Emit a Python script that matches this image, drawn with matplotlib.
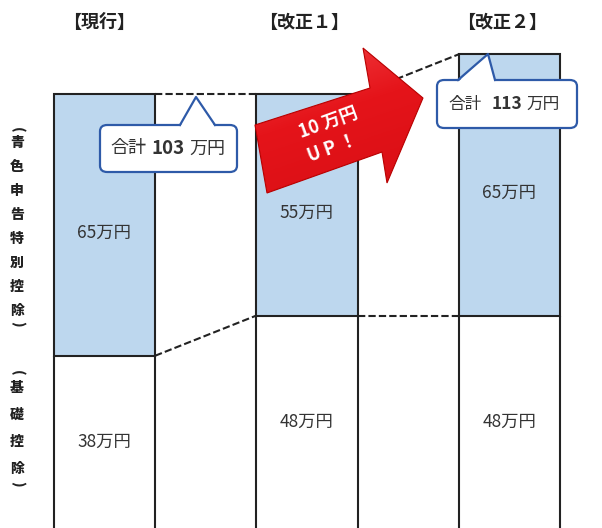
import numpy as np
import matplotlib.pyplot as plt
from matplotlib.patches import Polygon, FancyBboxPatch
from matplotlib.colors import LinearSegmentedColormap

plt.rcParams['font.family'] = ['Noto Sans CJK JP', 'DejaVu Sans']

W, H = 602, 528

# data
schemes = ['【現行】', '【改正１】', '【改正２】']
basic = [38, 48, 48]          # 基礎控除
blue = [65, 55, 65]           # 青色申告特別控除
total = [b + s for b, s in zip(basic, blue)]
blue_label = '(青色申告特別控除)'
basic_label = '(基礎控除)'
up_text = ['10 万円', 'U P ！']

fig = plt.figure(figsize=(W / 100, H / 100), dpi=100)
ax = fig.add_axes([0, 0, 1, 1])
XLIM = (-0.516, 2.457)
YLIM = (-4.85, 126.5)
ax.set_xlim(*XLIM)
ax.set_ylim(*YLIM)
ax.axis('off')


def px(x, y):
    # pixel position (from top-left) -> figure fraction
    return (x / W, 1 - y / H)


x = np.arange(len(schemes))
EC = '#222222'
# lower part runs off the bottom of the picture, so draw its sides only
ax.bar(x, basic, width=0.5, color='white', edgecolor='none', zorder=2)
ax.vlines(np.concatenate([x - 0.25, x + 0.25]), YLIM[0], basic + basic, color=EC, lw=1.5, zorder=2.1)
ax.bar(x, blue, bottom=basic, width=0.5, color='#bdd7ee', edgecolor=EC, lw=1.5, zorder=2.2)

# dashed connectors between bars
for i in range(len(x) - 1):
    for a, b in [(basic[i], basic[i + 1]), (total[i], total[i + 1])]:
        ax.plot([x[i] + 0.25, x[i + 1] - 0.25], [a, b], color=EC, lw=1.5,
                dashes=(3.5, 1.5), zorder=1.5)

# headers
for i, s in enumerate(schemes):
    fig.text(*px([99, 304, 502][i], 22), s, ha='center', va='center', fontsize=13,
             fontweight='bold', color='#222222')

# value labels
for i in range(len(x)):
    ax.text(x[i], basic[i] / 2 - 2.5, f'{basic[i]}万円', ha='center', va='center',
            fontsize=12.5, color='#333333', zorder=3)
    ax.text(x[i], basic[i] + blue[i] / 2 - 2, f'{blue[i]}万円', ha='center', va='center',
            fontsize=12.5, color='#333333', zorder=3)


# vertical side labels
def vlabel(text, xp, ytop, step, pstep):
    y = ytop
    for k, ch in enumerate(text):
        paren = ch in '()'
        fig.text(*px(xp, y), ch, ha='center', va='center', fontsize=10,
                 fontweight='heavy', color='#222222', rotation=-90 if paren else 0,
                 rotation_mode='anchor')
        if k < len(text) - 1:
            nxt = text[k + 1]
            y += pstep if (paren or nxt in '()') else step


vlabel(blue_label, 17, 130, 24, 13)
vlabel(basic_label, 17, 373, 27, 15)

# red arrow with gradient
arrow_px = np.array([(255, 125), (370, 88), (363, 48), (423, 98), (387, 183), (382, 152), (267, 193)])
inv = ax.transData.inverted()
arrow_data = inv.transform(np.column_stack([arrow_px[:, 0], H - arrow_px[:, 1]]))
poly = Polygon(arrow_data, closed=True, fc='none', ec='#b80000', lw=0.8, zorder=4.1)
ax.add_patch(poly)

gx = np.linspace(250, 430, 200)
gy = np.linspace(40, 200, 200)
GX, GY = np.meshgrid(gx, gy)
n = np.array([55, 165]) / np.hypot(55, 165)
t = GX * n[0] + GY * n[1]
t = (t - t.min()) / (t.max() - t.min())
cmap = LinearSegmentedColormap.from_list(
    'arr', [(0, '#f47070'), (0.25, '#ec2a2f'), (0.45, '#e5141a'), (0.8, '#dc1016'), (1, '#b50a0e')])
(l, tp) = inv.transform((250, H - 40))
(r, bt) = inv.transform((430, H - 200))
img = ax.imshow(t, cmap=cmap, extent=[l, r, bt, tp], origin='upper', aspect='auto', zorder=4)
img.set_clip_path(poly)
ax.set_xlim(*XLIM)
ax.set_ylim(*YLIM)

fig.text(*px(328, 122), up_text[0], ha='center', va='center', rotation=20, fontsize=13,
         fontweight='bold', color='white', zorder=6)
fig.text(*px(332, 148), up_text[1], ha='center', va='center', rotation=20, fontsize=13,
         fontweight='bold', color='white', zorder=6)


# callouts for totals
def callout(box, base, tip, value, xs, fs):
    x0, y0, x1, y1 = box
    fig.patches.append(FancyBboxPatch(px(x0, y1), (x1 - x0) / W, (y1 - y0) / H,
                                      boxstyle='round,pad=0,rounding_size=0.012',
                                      transform=fig.transFigure, fc='white', ec='#2e5aa8',
                                      lw=1.6, zorder=5))
    pts = [px(base[0], y0 + 2), px(*tip), px(base[1], y0 + 2)]
    fig.patches.append(Polygon(pts, closed=True, fc='white', ec='none',
                               transform=fig.transFigure, zorder=5.1))
    pts2 = [px(base[0], y0), px(*tip), px(base[1], y0)]
    fig.lines.append(plt.Line2D([p[0] for p in pts2], [p[1] for p in pts2], color='#2e5aa8',
                                lw=1.6, transform=fig.transFigure, zorder=5.2))
    yc = (y0 + y1) / 2
    fig.text(*px(xs[0], yc), '合計', ha='right', va='center', fontsize=fs, color='#333333', zorder=6)
    fig.text(*px(xs[1], yc), str(value), ha='center', va='center', fontsize=fs + 0.5,
             fontweight='bold', color='#333333', zorder=6)
    fig.text(*px(xs[2], yc), '万円', ha='left', va='center', fontsize=fs, color='#333333', zorder=6)


callout((100, 125, 237, 172), (180, 215), (196, 97), total[0], (146, 168, 189), 13)
callout((437, 80, 577, 128), (458, 495), (488, 54), total[2], (482, 507, 526), 12)

plt.savefig('out.png', dpi=100)
